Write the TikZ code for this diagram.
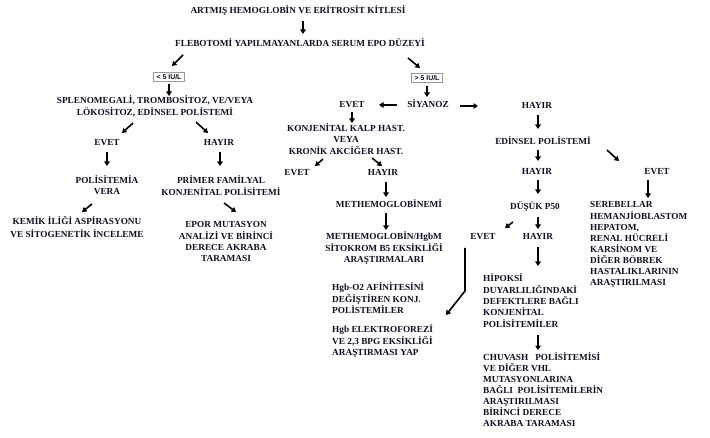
\documentclass[tikz,border=0pt]{standalone}
\usepackage{fontspec}
\setmainfont{Liberation Serif}
\newfontfamily\boxfont{Liberation Sans}
\usetikzlibrary{arrows.meta,calc}
\definecolor{txt}{RGB}{14,14,34}
\newcommand\mlc[1]{\begin{tabular}[t]{@{}c@{}}#1\end{tabular}}
\newcommand\mll[1]{\begin{tabular}[t]{@{}l@{}}#1\end{tabular}}
\begin{document}
\begin{tikzpicture}[x=1bp,y=-1bp,
  lbl/.style={inner sep=0pt,anchor=base,text=txt,font=\fontsize{9.3}{11}\selectfont\bfseries},
  lbll/.style={lbl,anchor=base west},
  valbox/.style={draw=gray!80,line width=0.6bp,inner sep=0pt,minimum width=31bp,minimum height=9bp,
     font=\boxfont\bfseries\fontsize{7}{8}\selectfont,text=txt},
  arr/.style={line width=1.6bp,-{Triangle[length=4.5bp,width=5.5bp]}}]
\useasboundingbox (0,0) rectangle (710,438);
% nodes
\node[lbl] (title) at (298,14) {ARTMIŞ HEMOGLOBİN VE ERİTROSİT KİTLESİ};
\node[lbl] (flebo) at (300,47) {FLEBOTOMİ YAPILMAYANLARDA SERUM EPO DÜZEYİ};
\node[valbox] (lt5) at (169,77) {< 5 IU/L};
\node[valbox] (gt5) at (427,78) {> 5 IU/L};
\node[lbl] (splen) at (155,104) {\mlc{SPLENOMEGALİ, TROMBOSİTOZ, VE/VEYA\\ LÖKOSİTOZ, EDİNSEL POLİSTEMİ}};
\node[lbl] (evetL) at (107,146) {EVET};
\node[lbl] (hayirL) at (219,146) {HAYIR};
\node[lbl] (polis) at (107,184) {\mlc{POLİSİTEMİA\\VERA}};
\node[lbl] (primer) at (221,184) {\mlc{PRİMER FAMİLYAL\\KONJENİTAL POLİSİTEMİ}};
\node[lbl] (kemik) at (77,225) {\mlc{KEMİK İLİĞİ ASPİRASYONU\\[1bp]VE SİTOGENETİK İNCELEME}};
\node[lbl] (epor) at (226,228) {\mlc{EPOR MUTASYON\\ANALİZİ VE BİRİNCİ\\DERECE AKRABA\\TARAMASI}};
\node[lbl] (siyanoz) at (428,108) {SİYANOZ};
\node[lbl] (evetS) at (352,108) {EVET};
\node[lbl] (hayirS) at (537,109) {HAYIR};
\node[lbl] (konj) at (346,132) {\mlc{KONJENİTAL KALP HAST.\\VEYA\\KRONİK AKCİĞER HAST.}};
\node[lbl] (evetK) at (297,176) {EVET};
\node[lbl] (hayirK) at (383,176) {HAYIR};
\node[lbl] (methemo) at (389,208) {METHEMOGLOBİNEMİ};
\node[lbl] (methemoB) at (384,240) {\mlc{METHEMOGLOBİN/HgbM\\SİTOKROM B5 EKSİKLİĞİ\\ARAŞTIRMALARI}};
\node[lbll] (hgbO2) at (332,291) {\mll{Hgb-O2 AFİNİTESİNİ\\DEĞİŞTİREN KONJ.\\POLİSTEMİLER}};
\node[lbll] (hgbE) at (332,333) {\mll{Hgb ELEKTROFOREZİ\\VE 2,3 BPG EKSİKLİĞİ\\ARAŞTIRMASI YAP}};
\node[lbl] (edinsel) at (543,145) {EDİNSEL POLİSTEMİ};
\node[lbl] (hayirE) at (537,175) {HAYIR};
\node[lbl] (evetE) at (657,175) {EVET};
\node[lbl] (dusuk) at (535,210) {DÜŞÜK P50};
\node[lbl] (evetD) at (483,240) {EVET};
\node[lbl] (hayirD) at (538,240) {HAYIR};
\node[lbll] (sereb) at (590,208) {\mll{SEREBELLAR\\HEMANJİOBLASTOM\\HEPATOM,\\RENAL HÜCRELİ\\KARSİNOM VE\\DİĞER BÖBREK\\HASTALIKLARININ\\ARAŞTIRILMASI}};
\node[lbll] (hipoksi) at (483,282) {\mll{HİPOKSİ\\DUYARLILIĞINDAKİ\\DEFEKTLERE BAĞLI\\KONJENİTAL\\POLİSİTEMİLER}};
\node[lbll] (chuvash) at (483,360) {\mll{CHUVASH\ \ \ POLİSİTEMİSİ\\VE DİĞER VHL\\MUTASYONLARINA\\BAĞLI\ \ POLİSİTEMİLERİN\\ARAŞTIRILMASI\\BİRİNCİ DERECE\\AKRABA TARAMASI}};
% arrows
\draw[arr] ($(title.base)+(5,7)$) -- ($(flebo.base)+(3,-13)$);
\draw[arr] ($(flebo.base)+(-117,8)$) -- ($(lt5.center)+(3,-11)$);
\draw[arr] ($(lt5.center)+(0,7)$) -- ($(splen.base)+(14,-8)$);
\draw[arr] ($(splen.base)+(-22,19)$) -- ($(evetL.base)+(15,-13)$);
\draw[arr] ($(splen.base)+(41,18)$) -- ($(hayirL.base)+(-11,-13)$);
\draw[arr] ($(evetL.base)+(0,6)$) -- ($(polis.base)+(0,-18)$);
\draw[arr] ($(hayirL.base)+(1,6)$) -- ($(primer.base)+(-1,-18)$);
\draw[arr] ($(polis.base)+(-15,20)$) -- ($(kemik.base)+(5,-13)$);
\draw[arr] ($(primer.base)+(3,19)$) -- ($(epor.base)+(10,-16)$);
\draw[arr] ($(flebo.base)+(108,11)$) -- ($(gt5.center)+(-7,-10)$);
\draw[arr] ($(gt5.center)+(0,8)$) -- ($(siyanoz.base)+(-1,-11)$);
\draw[arr] ($(siyanoz.base)+(-31,-3)$) -- ($(evetS.base)+(27,-3)$);
\draw[arr] ($(siyanoz.base)+(32,-2)$) -- ($(hayirS.base)+(-59,-3)$);
\draw[arr] ($(evetS.base)+(0,4)$) -- ($(konj.base)+(6,-9)$);
\draw[arr] ($(konj.base)+(-23,27)$) -- ($(evetK.base)+(18,-10)$);
\draw[arr] ($(konj.base)+(26,26)$) -- ($(hayirK.base)+(-1,-10)$);
\draw[arr] ($(hayirK.base)+(3,6)$) -- ($(methemo.base)+(-3,-11)$);
\draw[arr] ($(methemo.base)+(-3,5)$) -- ($(methemoB.base)+(2,-10)$);
\draw[arr] ($(hayirS.base)+(1,6)$) -- ($(edinsel.base)+(-5,-16)$);
\draw[arr] ($(edinsel.base)+(-5,5)$) -- ($(hayirE.base)+(1,-14)$);
\draw[arr] ($(hayirE.base)+(1,5)$) -- ($(dusuk.base)+(3,-16)$);
\draw[arr] ($(dusuk.base)+(-22,12)$) -- ($(evetD.base)+(22,-12)$);
\draw[arr] ($(dusuk.base)+(3,7)$) -- ($(hayirD.base)+(0,-11)$);
\draw[arr] ($(hayirD.base)+(0,7)$) -- ($(hipoksi.base west)+(55,-16)$);
\draw[arr] ($(edinsel.base)+(64,5)$) -- ($(evetE.base)+(-38,-14)$);
\draw[arr] ($(evetE.base)+(-9,5)$) -- ($(sereb.base west)+(58,-10)$);
\draw[arr] ($(hipoksi.base west)+(55,53)$) -- ($(chuvash.base west)+(55,-10)$);
\draw[arr] ($(evetD.base)+(-18,8)$) -- ++(0,43) -- ($(hgbO2.base west)+(114,24)$);
\end{tikzpicture}
\end{document}
